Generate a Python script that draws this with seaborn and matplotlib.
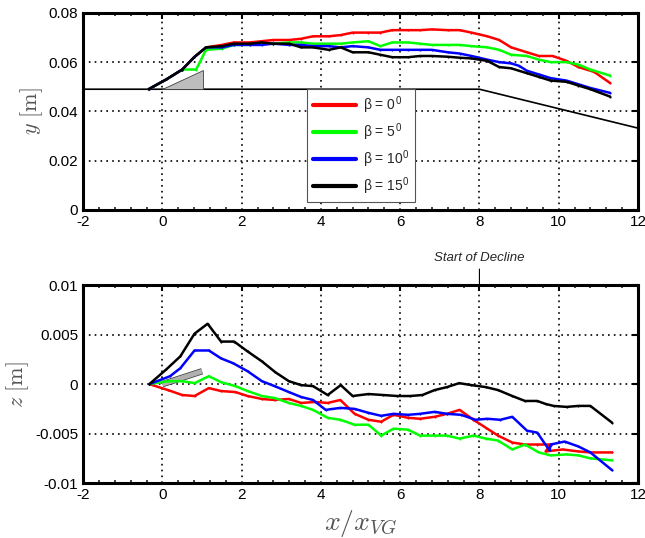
import numpy as np
import pandas as pd
import seaborn as sns
import matplotlib.pyplot as plt
from matplotlib.patches import Polygon
from matplotlib.ticker import MultipleLocator
import matplotlib.patheffects as pe

# top panel: y [m] vs x/x_VG
x_red_y = [-0.35, 0.1, 0.5, 0.8, 1.1, 1.5, 1.8, 2.2, 2.5, 2.8, 3.2, 3.5, 3.8, 4.2, 4.5, 4.8, 5.2, 5.5, 5.8,
           6.2, 6.5, 6.8, 7.2, 7.5, 7.8, 8.2, 8.5, 8.8, 9.2, 9.5, 9.85, 10.2, 10.5, 10.9, 11.3]
red_y = [0.049, 0.053, 0.057, 0.062, 0.066, 0.067, 0.068, 0.068, 0.0685, 0.069, 0.069, 0.0695, 0.0705, 0.0705,
         0.071, 0.072, 0.072, 0.072, 0.073, 0.073, 0.073, 0.0733, 0.073, 0.073, 0.072, 0.0705, 0.069, 0.066,
         0.064, 0.0625, 0.0625, 0.0605, 0.058, 0.056, 0.0515]
x_green_y = [-0.35, 0.1, 0.5, 0.85, 1.1, 1.5, 1.8, 2.2, 2.5, 2.8, 3.2, 3.5, 3.8, 4.2, 4.5, 4.8, 5.2, 5.5, 5.8,
             6.2, 6.5, 6.8, 7.2, 7.5, 7.8, 8.2, 8.5, 8.8, 9.2, 9.5, 9.8, 10.2, 10.5, 10.8, 11.3]
green_y = [0.049, 0.053, 0.057, 0.057, 0.065, 0.0655, 0.067, 0.067, 0.0675, 0.0675, 0.068, 0.068, 0.0675,
           0.0675, 0.0675, 0.068, 0.0685, 0.0665, 0.068, 0.068, 0.0675, 0.067, 0.067, 0.067, 0.0665, 0.066,
           0.065, 0.063, 0.0625, 0.061, 0.060, 0.060, 0.059, 0.057, 0.0545]
x_blue_y = [-0.35, 0.1, 0.5, 0.8, 1.1, 1.5, 1.8, 2.2, 2.5, 2.8, 3.2, 3.5, 3.8, 4.2, 4.5, 4.8, 5.2, 5.5, 5.8,
            6.2, 6.5, 6.8, 7.2, 7.5, 7.8, 8.2, 8.5, 8.8, 9.0, 9.2, 9.5, 9.8, 10.2, 10.5, 10.8, 11.3]
blue_y = [0.049, 0.053, 0.057, 0.062, 0.066, 0.066, 0.067, 0.067, 0.067, 0.0675, 0.067, 0.067, 0.0665, 0.0665,
          0.066, 0.0665, 0.066, 0.065, 0.065, 0.065, 0.065, 0.065, 0.064, 0.0635, 0.0625, 0.061, 0.060, 0.0595,
          0.0585, 0.0565, 0.055, 0.0535, 0.0525, 0.051, 0.0495, 0.0475]
x_black_y = [-0.35, 0.1, 0.5, 0.8, 1.1, 1.5, 1.8, 2.2, 2.5, 2.8, 3.2, 3.5, 3.8, 4.2, 4.5, 4.8, 5.2, 5.5, 5.8,
             6.2, 6.5, 6.8, 7.2, 7.5, 7.8, 8.2, 8.5, 8.8, 9.2, 9.5, 9.8, 10.2, 10.5, 10.8, 11.3]
black_y = [0.049, 0.053, 0.057, 0.062, 0.066, 0.0665, 0.0675, 0.0675, 0.068, 0.0675, 0.0675, 0.066, 0.066,
           0.065, 0.066, 0.064, 0.064, 0.063, 0.062, 0.062, 0.0625, 0.0625, 0.0622, 0.0618, 0.0615, 0.0605,
           0.058, 0.0575, 0.0555, 0.054, 0.0525, 0.052, 0.0505, 0.049, 0.046]

# bottom panel: z [m] vs x/x_VG
x_red_z = [-0.33, 0.14, 0.5, 0.81, 1.17, 1.48, 1.84, 2.15, 2.51, 2.83, 3.19, 3.5, 3.86, 4.17, 4.49, 4.85, 5.2,
           5.52, 5.83, 6.2, 6.5, 6.87, 7.18, 7.5, 7.85, 8.16, 8.47, 8.83, 9.15, 9.46, 9.8, 9.67, 10.1, 10.5,
           10.8, 11.35]
red_z = [0, -0.0006, -0.0011, -0.0012, -0.0004, -0.0007, -0.0008, -0.0012, -0.0015, -0.0016, -0.0015, -0.0019,
         -0.0018, -0.0019, -0.0016, -0.0030, -0.0036, -0.0038, -0.0031, -0.0034, -0.0035, -0.0033, -0.0030,
         -0.0026, -0.0036, -0.0044, -0.0052, -0.0059, -0.0061, -0.0061, -0.0061, -0.0068, -0.0066, -0.0068,
         -0.0069, -0.0069]
x_green_z = [-0.33, 0.14, 0.5, 0.81, 1.17, 1.48, 1.84, 2.15, 2.51, 2.83, 3.19, 3.5, 3.8, 4.17, 4.49, 4.85, 5.2,
             5.52, 5.83, 6.2, 6.5, 6.87, 7.18, 7.5, 7.85, 8.16, 8.47, 8.83, 9.15, 9.5, 9.8, 10.2, 10.5, 10.8,
             11.35]
green_z = [0, 0.0003, 0.0003, 0.0001, 0.0008, 0.0002, -0.0002, -0.0007, -0.0012, -0.0014, -0.0019, -0.0022,
           -0.0026, -0.0034, -0.0036, -0.0041, -0.0041, -0.0052, -0.0045, -0.0046, -0.0052, -0.0052, -0.0052,
           -0.0055, -0.0052, -0.0055, -0.0057, -0.0066, -0.0061, -0.0069, -0.0072, -0.0071, -0.0072, -0.0075,
           -0.0077]
x_blue_z = [-0.33, 0.19, 0.45, 0.81, 1.17, 1.48, 1.79, 2.15, 2.51, 2.83, 3.19, 3.5, 3.8, 4.12, 4.49, 4.85, 5.2,
            5.52, 5.83, 6.2, 6.5, 6.87, 7.18, 7.54, 7.9, 8.2, 8.53, 8.83, 9.2, 9.46, 9.77, 9.8, 10.15, 10.5,
            10.8, 11.35]
blue_z = [0, 0.0008, 0.0016, 0.0034, 0.0034, 0.0026, 0.0021, 0.0013, 0.0003, -0.0002, -0.0008, -0.0013, -0.0016,
          -0.0026, -0.0024, -0.0025, -0.0029, -0.0032, -0.0030, -0.0031, -0.0030, -0.0028, -0.0030, -0.0031,
          -0.0036, -0.0035, -0.0036, -0.0033, -0.0047, -0.0049, -0.0067, -0.0061, -0.0058, -0.0063, -0.0069,
          -0.0087]
x_black_z = [-0.33, 0.1, 0.45, 0.81, 1.14, 1.48, 1.81, 2.15, 2.51, 2.85, 3.19, 3.5, 3.8, 4.17, 4.5, 4.8, 5.2,
             5.57, 5.93, 6.25, 6.56, 6.87, 7.18, 7.49, 7.8, 8.16, 8.47, 8.83, 9.15, 9.46, 9.67, 9.87, 10.2, 10.5,
             10.8, 11.35]
black_z = [0, 0.0015, 0.0028, 0.0051, 0.0061, 0.0043, 0.0043, 0.0033, 0.0023, 0.0012, 0.0003, -0.0001, -0.0002,
           -0.0011, -0.0001, -0.0012, -0.0010, -0.0011, -0.0012, -0.0012, -0.0011, -0.0006, -0.0003, 0.0001,
           -0.0001, -0.0003, -0.0006, -0.0012, -0.0017, -0.0017, -0.0020, -0.0022, -0.0023, -0.0022, -0.0022,
           -0.0039]

labels = [r'β = 0$^{\mathregular{0}}$', r'β = 5$^{\mathregular{0}}$',
          r'β = 10$^{\mathregular{0}}$', r'β = 15$^{\mathregular{0}}$']
colors = ['#ff0000', '#00ff00', '#0000ff', '#000000']

# wall geometry (top) and vortex generator outlines
wall_x = [-2, 8, 12]
wall_y = [0.049, 0.049, 0.0332]
vg_top_x = [0.0, 1.02, 1.02]
vg_top_y = [0.049, 0.049, 0.057]
vg_bot_x = [0.0, 1.0]
vg_bot_z = [0.0, 0.0013]

x_ticks = [-2, 0, 2, 4, 6, 8, 10, 12]
y_ticks = [0, 0.02, 0.04, 0.06, 0.08]
y_tick_labels = ['0', '0.02', '0.04', '0.06', '0.08']
z_ticks = [-0.01, -0.005, 0, 0.005, 0.01]
z_tick_labels = ['-0.01', '-0.005', '0', '0.005', '0.01']

sns.set_style('white')
plt.rcParams['font.family'] = ['Liberation Sans', 'DejaVu Sans']
plt.rcParams['mathtext.fontset'] = 'cm'
plt.rcParams['axes.unicode_minus'] = False

top = pd.concat([pd.DataFrame({'x': xs, 'v': ys, 'case': lab})
                 for xs, ys, lab in zip([x_red_y, x_green_y, x_blue_y, x_black_y],
                                        [red_y, green_y, blue_y, black_y], labels)])
bot = pd.concat([pd.DataFrame({'x': xs, 'v': ys, 'case': lab})
                 for xs, ys, lab in zip([x_red_z, x_green_z, x_blue_z, x_black_z],
                                        [red_z, green_z, blue_z, black_z], labels)])

fig = plt.figure(figsize=(6.45, 5.38), dpi=100)
ax1 = fig.add_axes([0.129, 0.61, 0.860, 0.366])
ax2 = fig.add_axes([0.129, 0.102, 0.860, 0.368])

for ax, df in [(ax1, top), (ax2, bot)]:
    sns.lineplot(data=df, x='x', y='v', hue='case', hue_order=labels, palette=colors,
                 sort=False, estimator=None, units='case', lw=1.8, marker='.', markersize=3,
                 markeredgewidth=0, ax=ax, legend=(ax is ax1))

# wall and vortex generator
ax1.plot(wall_x, wall_y, color='black', lw=1.2, zorder=1)
ax1.add_patch(Polygon(list(zip(vg_top_x, vg_top_y)), closed=True, facecolor='#bdbdbd',
                      edgecolor='#404040', lw=0.6, zorder=1))
ax2.plot(vg_bot_x, vg_bot_z, color='#b0b0b0', lw=3.5, solid_capstyle='butt', zorder=1,
         path_effects=[pe.Stroke(linewidth=4.6, foreground='#404040'), pe.Normal()])

ax1.set_ylim(0, 0.08)
ax2.set_ylim(-0.01, 0.01)
for ax in (ax1, ax2):
    ax.set_xlim(-2, 12)
    ax.set_xticks(x_ticks)
    ax.set_xticklabels([str(t) for t in x_ticks])
    ax.xaxis.set_minor_locator(MultipleLocator(0.4))
    ax.grid(True, which='major', color='black', linestyle=(0, (1, 2.5)), lw=1.2)
    ax.tick_params(which='major', direction='in', top=True, right=True, length=4, width=1.5,
                   labelsize=11, pad=3.5, colors='black')
    ax.tick_params(which='minor', direction='in', top=True, bottom=True, length=2.5, width=1.2)
    for s in ax.spines.values():
        s.set_linewidth(2.2)
        s.set_color('black')
        s.set_visible(True)
    ax.set_xlabel('')
ax1.set_yticks(y_ticks)
ax1.set_yticklabels(y_tick_labels)
ax2.set_yticks(z_ticks)
ax2.set_yticklabels(z_tick_labels)

ax1.set_ylabel(r'$y\ [\mathrm{m}]$', fontsize=16, color='#555555', labelpad=3)
ax2.set_ylabel(r'$z\ [\mathrm{m}]$', fontsize=16, color='#555555', labelpad=3)
ax2.set_xlabel(r'$x/x_{VG}$', fontsize=20, color='#555555', labelpad=4)

leg = ax1.legend(loc='upper left', bbox_to_anchor=(0.404, 0.612), borderaxespad=0, fontsize=10,
                 handlelength=3.1, labelspacing=0.4, handletextpad=0.5, borderpad=0.4,
                 fancybox=False, edgecolor='#555555', framealpha=1)
leg.get_frame().set_linewidth(0.8)
for line in leg.get_lines():
    line.set_linewidth(3)
    line.set_marker('')

ax2.annotate('Start of Decline', xy=(8, 0.01), xytext=(8, 0.0121), ha='center', va='bottom',
             fontsize=9.5, style='italic', annotation_clip=False,
             arrowprops=dict(arrowstyle='-', lw=0.8, color='black', shrinkA=1, shrinkB=0))

fig.savefig('out.png', dpi=100)
